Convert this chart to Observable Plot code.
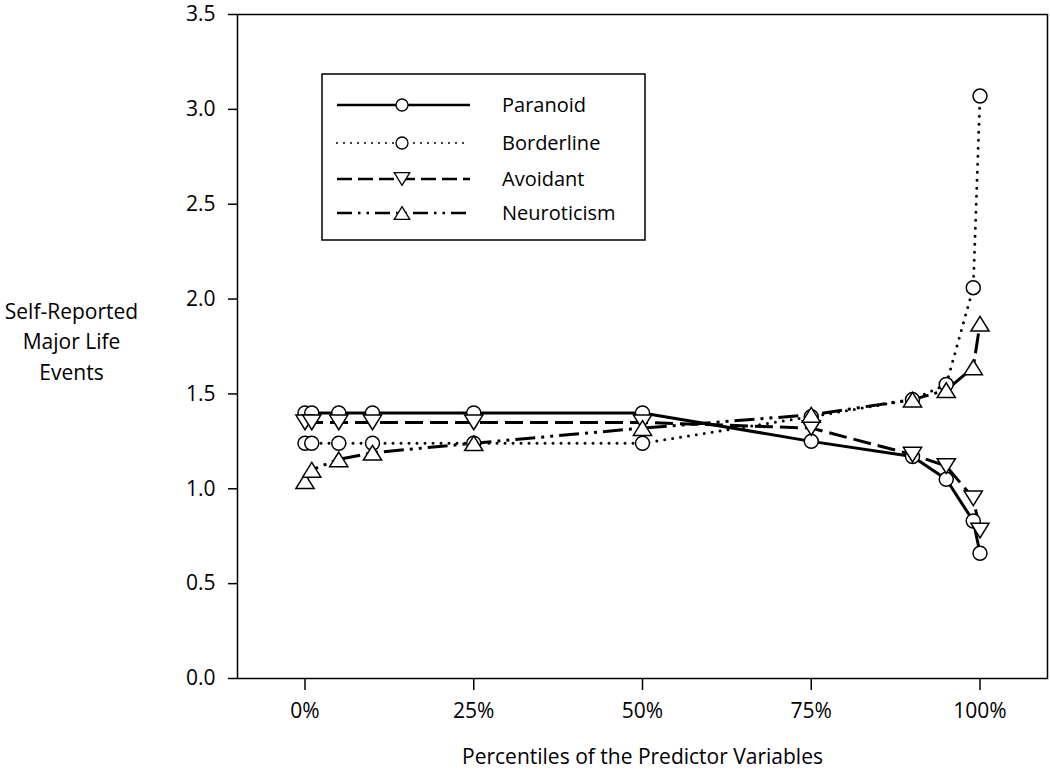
<!DOCTYPE html>
<html>
<head>
<meta charset="utf-8">
<script src="https://cdn.jsdelivr.net/npm/d3@7"></script>
<script src="https://cdn.jsdelivr.net/npm/@observablehq/plot@0.6"></script>
<style>
  body { margin: 0; background: white; }
  #wrap { position: relative; width: 1050px; height: 773px; font-family: "Open Sans", sans-serif; }
  #legend { position: absolute; left: 0; top: 0; }
</style>
</head>
<body>
<div id="wrap"></div>
<script>
const percentiles = [0, 1, 5, 10, 25, 50, 75, 90, 95, 99, 100];
const paranoid    = [1.40, 1.40, 1.40, 1.40, 1.40, 1.40, 1.25, 1.17, 1.05, 0.83, 0.66];
const borderline  = [1.24, 1.24, 1.24, 1.24, 1.24, 1.24, 1.38, 1.47, 1.55, 2.06, 3.07];
const avoidant    = [1.35, 1.35, 1.35, 1.35, 1.35, 1.35, 1.32, 1.18, 1.12, 0.95, 0.78];
const neuroticism = [1.04, 1.10, 1.155, 1.19, 1.24, 1.32, 1.39, 1.47, 1.52, 1.64, 1.87];
const seriesNames = ["Paranoid", "Borderline", "Avoidant", "Neuroticism"];
const xTicks = [0, 25, 50, 75, 100];
const yTicks = [0, 0.5, 1, 1.5, 2, 2.5, 3, 3.5];
const xTitle = "Percentiles of the Predictor Variables";
const yTitle = "Self-Reported\nMajor Life\nEvents";

const seriesValues = [paranoid, borderline, avoidant, neuroticism];
const FONT = "'Open Sans', sans-serif";

// symbols
const triUp = {
  draw(ctx, size) {
    const r = Math.sqrt(size / Math.PI);
    const w = r * 1.3, h = r * 2.1;
    ctx.moveTo(0, -h / 2); ctx.lineTo(w, h / 2); ctx.lineTo(-w, h / 2); ctx.closePath();
  }
};
const triDown = {
  draw(ctx, size) {
    const r = Math.sqrt(size / Math.PI);
    const w = r * 1.3, h = r * 2.1;
    ctx.moveTo(0, h / 2); ctx.lineTo(w, -h / 2); ctx.lineTo(-w, -h / 2); ctx.closePath();
  }
};
const styles = [
  {dash: null, cap: "butt", symbol: "circle", legendDash: null},
  {dash: "0 8", cap: "round", symbol: "circle", legendDash: "0 7"},
  {dash: "18 7", cap: "butt", symbol: triDown, legendDash: "15 6"},
  {dash: "20 6 3 6 3 6", cap: "butt", symbol: triUp, legendDash: "15 6 2.5 6 2.5 6"}
];

const marks = [];
seriesValues.forEach((vals, k) => {
  const rows = percentiles.map((p, i) => ({p, v: vals[i]}));
  const st = styles[k];
  marks.push(Plot.line(rows, {
    x: "p", y: "v", stroke: "black", strokeWidth: 3,
    strokeDasharray: st.dash, strokeLinecap: st.cap
  }));
});
seriesValues.forEach((vals, k) => {
  const rows = percentiles.map((p, i) => ({p, v: vals[i]}));
  const st = styles[k];
  marks.push(Plot.dot(rows, {
    x: "p", y: "v", r: 7, symbol: st.symbol,
    fill: "white", stroke: "black", strokeWidth: 1.5
  }));
});

const chart = Plot.plot({
  width: 1050,
  height: 773,
  marginLeft: 237,
  marginRight: 3,
  marginTop: 14,
  marginBottom: 95,
  style: {fontFamily: FONT, fontSize: "21px", color: "black", background: "white"},
  x: {domain: [-10, 110]},
  y: {domain: [0, 3.5]},
  marks: [
    Plot.axisY({ticks: yTicks, tickFormat: d3.format(".1f"), tickSize: 9, tickPadding: 13, label: null, fontSize: 21, strokeWidth: 1.5}),
    Plot.axisX({ticks: xTicks, tickFormat: d => d + "%", tickSize: 12, tickPadding: 13, label: null, fontSize: 21, strokeWidth: 1.5}),
    ...marks,
    Plot.frame({stroke: "black", strokeWidth: 1.5}),
    Plot.text([yTitle], {text: d => d, frameAnchor: "left", dx: -166, dy: -7, textAnchor: "middle", lineHeight: 1.45, fontSize: 21}),
    Plot.text([xTitle], {text: d => d, frameAnchor: "bottom", dy: 79, lineAnchor: "middle", fontSize: 21})
  ]
});
document.getElementById("wrap").appendChild(chart);

// legend overlay
const lg = d3.select("#wrap").append("svg")
  .attr("id", "legend").attr("width", 1050).attr("height", 773);
lg.append("rect").attr("x", 322).attr("y", 74).attr("width", 323).attr("height", 166)
  .attr("fill", "white").attr("stroke", "black").attr("stroke-width", 1.5);
const rowY = [105, 143, 179, 213];
seriesNames.forEach((name, k) => {
  const st = styles[k];
  const y = rowY[k];
  lg.append("line").attr("x1", 337).attr("x2", 470).attr("y1", y).attr("y2", y)
    .attr("stroke", "black").attr("stroke-width", k === 1 ? 2 : 2.5)
    .attr("stroke-dasharray", st.legendDash)
    .attr("stroke-linecap", st.cap);
  const sym = typeof st.symbol === "string" ? d3.symbolCircle : st.symbol;
  lg.append("path").attr("transform", `translate(402,${y})`)
    .attr("d", d3.symbol(sym, Math.PI * 36)())
    .attr("fill", "white").attr("stroke", "black").attr("stroke-width", 1.3);
  lg.append("text").attr("x", 502).attr("y", y).attr("dy", "0.35em")
    .attr("font-size", 20).attr("font-family", FONT).text(name);
});
</script>
</body>
</html>
